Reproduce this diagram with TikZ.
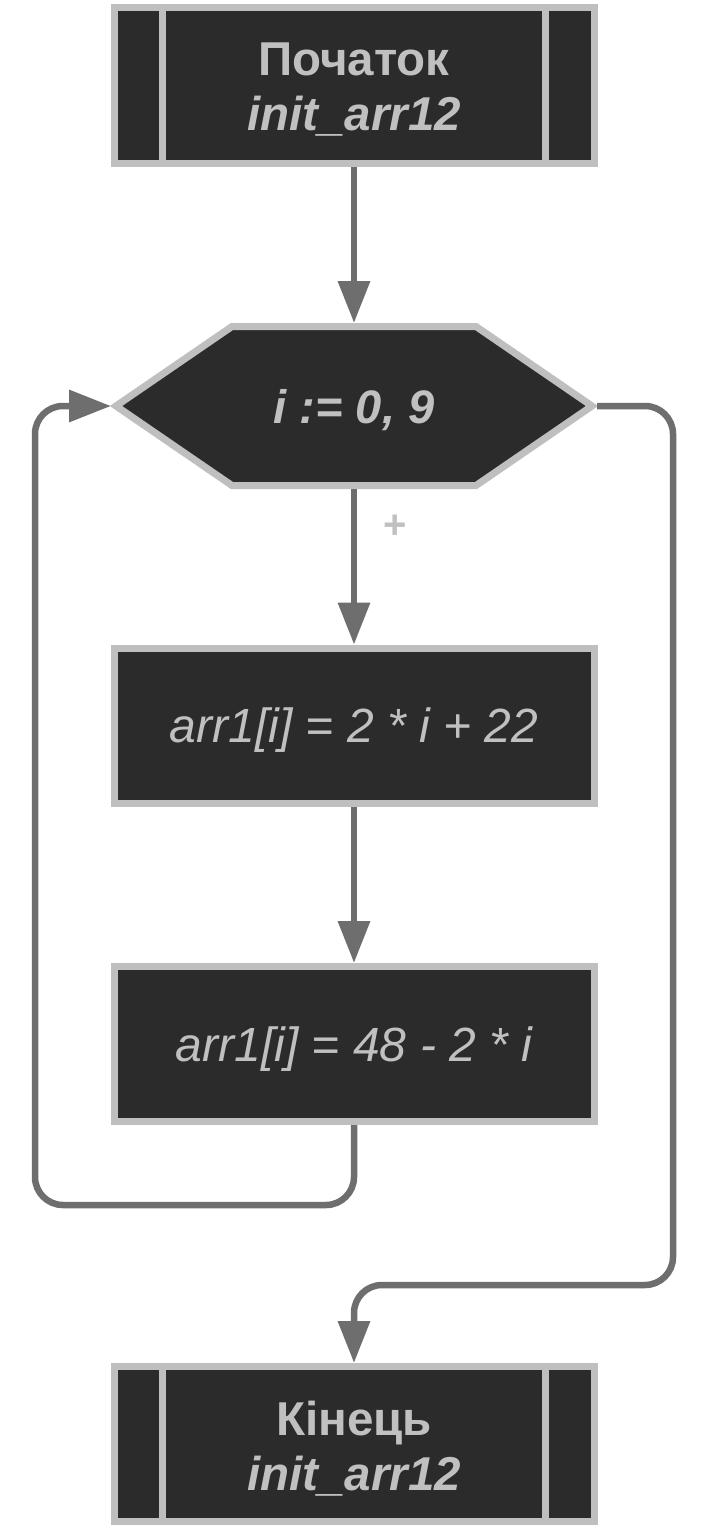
\documentclass[tikz,border=0pt]{standalone}
\usepackage{fontspec}
\setmainfont{Liberation Sans}
\usetikzlibrary{arrows.meta}
\definecolor{boxfill}{HTML}{2B2B2B}
\definecolor{boxline}{HTML}{BFBFBF}
\definecolor{arrowc}{HTML}{6E6E6E}
\definecolor{txt}{HTML}{C0C0C0}
\begin{document}
\begin{tikzpicture}[x=1pt,y=-1pt,
  base/.style={draw=boxline, fill=boxfill, line width=7pt, minimum width=480pt, minimum height=155pt, inner sep=0pt},
  boxtext/.style={text=txt, inner sep=0pt, align=center},
  termtext/.style={boxtext, font=\fontsize{47.5}{55}\selectfont\bfseries},
  proctext/.style={boxtext, font=\fontsize{48}{55}\selectfont\itshape},
  sideline/.style={draw=boxline, line width=7pt},
  hexbox/.style={draw=boxline, fill=boxfill, line width=7pt, line join=miter},
  hextext/.style={boxtext, font=\fontsize{47}{54}\selectfont\bfseries\itshape},
  lbl/.style={text=txt, font=\fontsize{40}{44}\selectfont\bfseries, inner sep=0pt},
  conn/.style={draw=arrowc, line width=6.5pt, rounded corners=28pt, -{Triangle[length=42pt,width=31pt]}}]

\useasboundingbox[fill=white] (0,0) rectangle (708,1528);

% start terminal
\node[base] (start) at (354,85.5) {};
\draw[sideline] ([xshift=52pt]start.north west) -- ([xshift=52pt]start.south west);
\draw[sideline] ([xshift=-52pt]start.north east) -- ([xshift=-52pt]start.south east);
\node[termtext] (starttxt) at (354,90) {Початок\\\itshape init\_arr12};

% loop hexagon
\coordinate (hw) at (116,406);
\coordinate (he) at (592,406);
\coordinate (hn) at (354,323);
\coordinate (hs) at (354,489);
\coordinate (hwin) at (111,406);
\coordinate (heout) at (597,406);
\draw[hexbox] (hw) -- (232,326.5) -- (476,326.5) -- (he) -- (476,485.5) -- (232,485.5) -- cycle;
\node[hextext] (loop) at (354,410) {i := 0, 9};

% process boxes
\node[base] (b2) at (354,725.5) {};
\node[proctext] (b2txt) at (354,730) {arr1[i] = 2 * i + 22};
\node[base] (b3) at (354,1044) {};
\node[proctext] (b3txt) at (354,1049) {arr1[i] = 48 - 2 * i};

% end terminal
\node[base] (stop) at (354,1444) {};
\draw[sideline] ([xshift=52pt]stop.north west) -- ([xshift=52pt]stop.south west);
\draw[sideline] ([xshift=-52pt]stop.north east) -- ([xshift=-52pt]stop.south east);
\node[termtext] (stoptxt) at (354,1448.5) {Кінець\\\itshape init\_arr12};

% label
\node[lbl] (plus) at (395,527) {+};

% connectors
\draw[conn] (start.south) -- (hn);
\draw[conn] (hs) -- (b2.north);
\draw[conn] (b2.south) -- (b3.north);
\draw[conn] (b3.south) |- (35,1205) |- (hwin);
\draw[conn] (heout) -| (673,1285) -| (stop.north);
\end{tikzpicture}
\end{document}
